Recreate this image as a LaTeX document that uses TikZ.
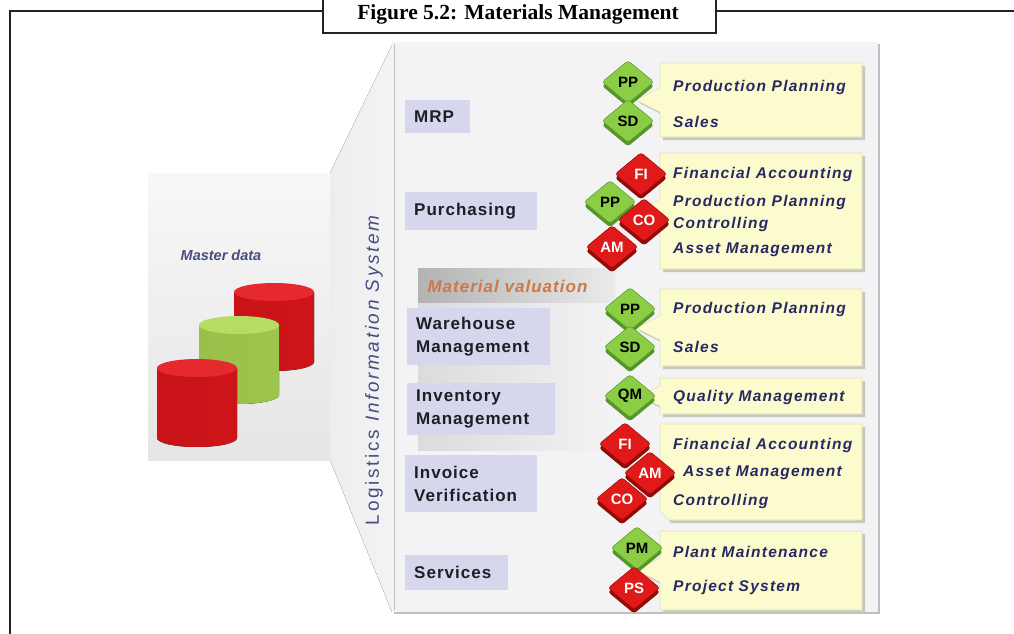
\documentclass[tikz,border=0pt]{standalone}
\usepackage{fontspec}
\newfontfamily\labelfont{Liberation Sans}[LetterSpace=6]
\newfontfamily\notefont{Liberation Sans}[LetterSpace=8]
\newfontfamily\sidefont{Liberation Sans}[LetterSpace=14]
\newfontfamily\modfont{Liberation Sans}
\newfontfamily\captionfont{Liberation Serif}
\usetikzlibrary{shapes.geometric, shadows, positioning}

\definecolor{frameink}{RGB}{35, 35, 35}
\definecolor{panelbg}{RGB}{243, 243, 246}
\definecolor{panelrim}{RGB}{190, 190, 196}
\definecolor{lavender}{RGB}{214, 214, 236}
\definecolor{labelink}{RGB}{30, 30, 40}
\definecolor{noteyellow}{RGB}{251, 251, 205}
\definecolor{noteedge}{RGB}{225, 225, 190}
\definecolor{noteshade}{RGB}{200, 200, 190}
\definecolor{noteink}{RGB}{40, 40, 100}
\definecolor{modgreen}{RGB}{140, 205, 70}
\definecolor{modgreendk}{RGB}{85, 150, 40}
\definecolor{modred}{RGB}{225, 25, 25}
\definecolor{modreddk}{RGB}{150, 10, 10}
\definecolor{dbred}{RGB}{228, 22, 28}
\definecolor{dbgreen}{RGB}{175, 218, 85}
\definecolor{mdblue}{RGB}{70, 78, 125}
\definecolor{valbrown}{RGB}{205, 120, 70}

\begin{document}
\begin{tikzpicture}[
  x=1pt, y=-1pt,
  areabox/.style={fill=lavender, anchor=north west, inner xsep=9pt, inner ysep=0pt, align=left, text=labelink, font=\labelfont\bfseries\fontsize{17}{23}\selectfont},
  note/.style={fill=noteyellow, draw=noteedge, line width=0.6pt, copy shadow={shadow xshift=3pt, shadow yshift=-3pt, fill=noteshade, draw=none}},
  notetext/.style={anchor=west, inner sep=0pt, text=noteink, font=\notefont\bfseries\itshape\fontsize{15.5}{18}\selectfont},
  modg/.style={diamond, minimum width=52pt, minimum height=43pt, inner sep=0pt, rounded corners=3pt, fill=modgreen, draw=modgreendk, line width=0.5pt, text=black, font=\modfont\bfseries\fontsize{15}{15}\selectfont, copy shadow={shadow xshift=0pt, shadow yshift=-4pt, fill=modgreendk, draw=none}},
  modr/.style={modg, fill=modred, draw=modreddk, text=white, copy shadow={shadow xshift=0pt, shadow yshift=-4pt, fill=modreddk, draw=none}},
  titlebox/.style={draw=frameink, line width=2pt, fill=white, minimum width=393pt, minimum height=42pt, inner sep=0pt}
]
  \useasboundingbox (0,0) rectangle (1014,634);

  % page frame and caption
  \draw[frameink, line width=2pt] (1020,11) -- (10,11) -- (10,640);
  \node[titlebox] (title) at (519.5,12) {};
  \node[font=\captionfont\bfseries\fontsize{21.5}{24}\selectfont, inner sep=0pt] (caption) at (518,14) {Figure 5.2: Materials Management};

  % master data side panel
  \fill[top color=black!3, bottom color=black!10] (148,173) rectangle (330,460);
  \fill[left color=black!7, right color=panelbg] (330,173) -- (392,45) -- (392,612) -- (330,460) -- cycle;
  \node[text=mdblue, font=\modfont\bfseries\itshape\fontsize{14.5}{16}\selectfont] (mdata) at (221,255) {Master data};

  % database cylinders
  \foreach \cx/\ty/\col in {274/292/dbred, 239/325/dbgreen, 197/368/dbred} {
    \fill[left color=\col!88!black, middle color=\col, right color=\col!90!black]
      (\cx-40,\ty) -- (\cx-40,\ty+70) arc[start angle=180, end angle=0, x radius=40, y radius=9] -- (\cx+40,\ty) -- cycle;
    \fill[\col!92!white] (\cx,\ty) ellipse[x radius=40, y radius=9];
  }

  \node[rotate=90, text=mdblue, font=\sidefont\fontsize{19}{20}\selectfont] (lis) at (374,369) {Logistics \textit{Information System}};

  % main panel
  \fill[panelbg] (392,42) rectangle (878,612);
  \draw[black!25, line width=0.8pt] (394,44) -- (394,610);
  \draw[panelrim, line width=2pt] (879,44) -- (879,613) -- (394,613);

  % valuation band
  \fill[left color=black!14, right color=panelbg] (418,300) rectangle (615,450);
  \fill[left color=black!30, right color=black!8] (418,268) rectangle (615,302);
  \node[anchor=west, text=valbrown, font=\labelfont\bfseries\itshape\fontsize{17}{19}\selectfont] (mval) at (424,286) {Material valuation};

  % application areas
  \node[areabox, text width=47pt, minimum height=33pt] (mrp) at (405,100) {MRP};
  \node[areabox, text width=114pt, minimum height=38pt] (purch) at (405,192) {Purchasing};
  \node[areabox, text width=125pt, minimum height=57pt] (wm) at (407,308) {Warehouse\\Management};
  \node[areabox, text width=130pt, minimum height=52pt] (im) at (407,383) {Inventory\\Management};
  \node[areabox, text width=114pt, minimum height=57pt] (iv) at (405,455) {Invoice\\Verification};
  \node[areabox, text width=85pt, minimum height=35pt] (serv) at (405,555) {Services};

  % integration notes
  \path[note] (660,63) -- (862,63) -- (862,137) -- (660,137) -- (660,112) -- (636,100) -- (660,88) -- cycle;
  \path[note] (660,153) -- (862,153) -- (862,269) -- (660,269) -- (660,223) -- (636,211) -- (660,199) -- cycle;
  \path[note] (660,289) -- (862,289) -- (862,366) -- (660,366) -- (660,340) -- (636,328) -- (660,316) -- cycle;
  \path[note] (660,378) -- (862,378) -- (862,414) -- (660,414) -- (660,406) -- (640,396) -- (660,386) -- cycle;
  \path[note] (660,424) -- (862,424) -- (862,520) -- (668,520) -- (660,510) -- (660,484) -- (636,472) -- (660,460) -- cycle;
  \path[note] (660,531) -- (862,531) -- (862,610) -- (660,610) -- (660,582) -- (636,570) -- (660,558) -- cycle;

  \node[notetext] (n-mrp-pp) at (673,87) {Production Planning};
  \node[notetext] (n-mrp-sd) at (673,122) {Sales};
  \node[notetext] (n-pur-fi) at (673,174) {Financial Accounting};
  \node[notetext] (n-pur-pp) at (673,202) {Production Planning};
  \node[notetext] (n-pur-co) at (673,224) {Controlling};
  \node[notetext] (n-pur-am) at (673,250) {Asset Management};
  \node[notetext] (n-wm-pp) at (673,309) {Production Planning};
  \node[notetext] (n-wm-sd) at (673,347) {Sales};
  \node[notetext] (n-im-qm) at (673,397) {Quality Management};
  \node[notetext] (n-iv-fi) at (673,445) {Financial Accounting};
  \node[notetext] (n-iv-am) at (683,473) {Asset Management};
  \node[notetext] (n-iv-co) at (673,501) {Controlling};
  \node[notetext] (n-sv-pm) at (673,552) {Plant Maintenance};
  \node[notetext] (n-sv-ps) at (673,587) {Project System};

  % component modules
  \node[modg] (mrp-pp) at (628,82) {PP};
  \node[modg] (mrp-sd) at (628,121) {SD};
  \node[modg] (pur-pp) at (610,202) {PP};
  \node[modr] (pur-fi) at (641,174) {FI};
  \node[modr] (pur-co) at (644,220) {CO};
  \node[modr] (pur-am) at (612,247) {AM};
  \node[modg] (wm-pp) at (630,309) {PP};
  \node[modg] (wm-sd) at (630,347) {SD};
  \node[modg] (im-qm) at (630,396) {QM};
  \node[modr] (iv-fi) at (625,444) {FI};
  \node[modr] (iv-am) at (650,473) {AM};
  \node[modr] (iv-co) at (622,499) {CO};
  \node[modg] (sv-pm) at (637,548) {PM};
  \node[modr] (sv-ps) at (634,588) {PS};
\end{tikzpicture}
\end{document}
